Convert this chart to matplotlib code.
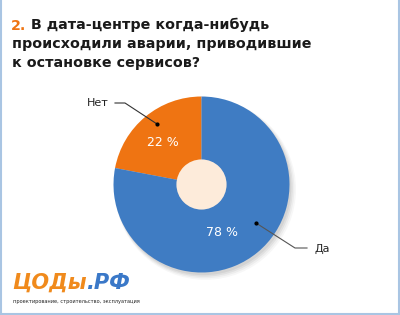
import matplotlib
matplotlib.use("Agg")
import matplotlib.pyplot as plt
from matplotlib.patches import Circle

labels = ["Нет", "Да"]
values = [22, 78]
pct_text = ["22 %", "78 %"]
colors = ["#EF7412", "#3F7CC3"]

W, H = 400, 315
fig = plt.figure(figsize=(W / 100, H / 100), dpi=100)
fig.patch.set_facecolor("white")

# pie axes
cx, cy, R = 201.5, 184.5, 88
m = 1.08
pax = fig.add_axes([(cx - R * m) / W, (H - cy - R * m) / H, 2 * R * m / W, 2 * R * m / H])
pax.axis("off")

for i, a in enumerate([0.06, 0.05, 0.04, 0.03]):
    pax.add_patch(Circle((0.02 + i * 0.008, -0.03 - i * 0.008), 1.0 + i * 0.01,
                         color="black", alpha=a, lw=0, zorder=0))
wedges, _ = pax.pie(values, colors=colors, startangle=90, counterclock=True,
                    radius=1.0, wedgeprops=dict(linewidth=0))
for w in wedges:
    w.set_zorder(1)
pax.add_patch(Circle((0, 0), 0.285, color="#FDEBDA", lw=0, zorder=3))
pax.set_xlim(-m, m)
pax.set_ylim(-m, m)
pax.set_aspect("equal")
pax.axis("off")

# overlay axes in pixel coordinates
ax = fig.add_axes([0, 0, 1, 1])
ax.set_xlim(0, W)
ax.set_ylim(H, 0)
ax.axis("off")
ax.patch.set_alpha(0)

# frame
fc = "#A9C5E3"
ax.plot([1, 1], [0, H - 1], color=fc, lw=1.5)
ax.plot([W - 1.5, W - 1.5], [0, H - 1], color=fc, lw=1.5)
ax.plot([0, W], [H - 1, H - 1], color=fc, lw=1.5)

# title
tfs = 10.3
ax.text(11, 29.5, "2.", color="#EF7412", fontsize=tfs, fontweight="bold", va="baseline")
ax.text(31, 29.5, "В дата-центре когда-нибудь", color="#1A1A1A", fontsize=tfs, fontweight="bold", va="baseline")
ax.text(12, 48, "происходили аварии, приводившие", color="#1A1A1A", fontsize=tfs, fontweight="bold", va="baseline")
ax.text(12, 66.5, "к остановке сервисов?", color="#1A1A1A", fontsize=tfs, fontweight="bold", va="baseline")

# percent labels
ax.text(163, 142, pct_text[0], color="white", fontsize=9, ha="center", va="center")
ax.text(222, 232, pct_text[1], color="white", fontsize=9, ha="center", va="center")

# callouts
ax.plot([115, 125, 157], [103, 103, 124], color="#333333", lw=0.8)
ax.plot([157], [124], "o", color="black", ms=2)
ax.text(98, 103, labels[0], fontsize=8, ha="center", va="center", color="#222222")
ax.plot([256, 295, 307], [223, 248, 248], color="#555555", lw=0.8)
ax.plot([256], [223], "o", color="black", ms=2)
ax.text(322, 249, labels[1], fontsize=8, ha="center", va="center", color="#222222")

# logo
t1 = ax.text(12, 289, "ЦОДы", color="#F08A1C", fontsize=15, fontweight="bold", style="italic", va="baseline")
fig.canvas.draw()
bb = t1.get_window_extent()
x_end = bb.x1 * W / fig.bbox.width
ax.text(x_end - 1, 289, ".РФ", color="#3A78C8", fontsize=15, fontweight="bold", style="italic", va="baseline")
ax.text(13, 302, "проектирование, строительство, эксплуатация", color="#222222", fontsize=3.6, va="center")

fig.savefig("out.png", dpi=100, facecolor="white")
